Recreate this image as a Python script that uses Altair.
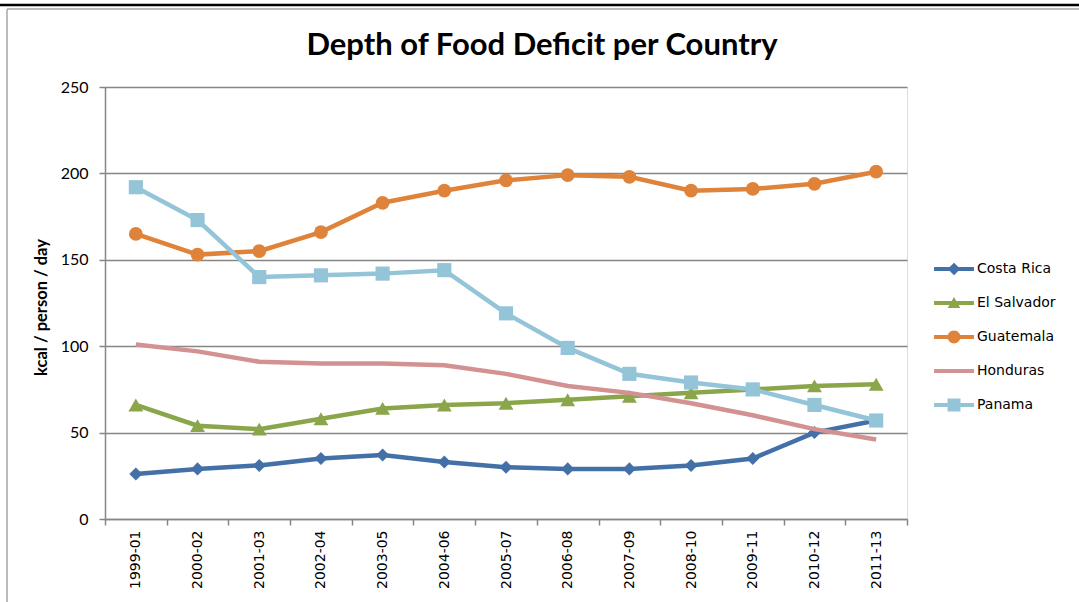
import altair as alt
import pandas as pd

periods = ["1999-01", "2000-02", "2001-03", "2002-04", "2003-05", "2004-06", "2005-07",
           "2006-08", "2007-09", "2008-10", "2009-11", "2010-12", "2011-13"]
countries = ["Costa Rica", "El Salvador", "Guatemala", "Honduras", "Panama"]
costa_rica = [26, 29, 31, 35, 37, 33, 30, 29, 29, 31, 35, 50, 57]
el_salvador = [66, 54, 52, 58, 64, 66, 67, 69, 71, 73, 75, 77, 78]
guatemala = [165, 153, 155, 166, 183, 190, 196, 199, 198, 190, 191, 194, 201]
honduras = [101, 97, 91, 90, 90, 89, 84, 77, 73, 67, 60, 52, 46]
panama = [192, 173, 140, 141, 142, 144, 119, 99, 84, 79, 75, 66, 57]
colors = ["#4470A8", "#8BA54B", "#DE8339", "#D49191", "#93C4D7"]
marker_shapes = ["diamond", "triangle-up", "circle", None, "square"]
marker_sizes = [170, 220, 190, 0, 200]

series = [costa_rica, el_salvador, guatemala, honduras, panama]
rows = []
for c, vals in zip(countries, series):
    for p, v in zip(periods, vals):
        rows.append({"Period": p, "Country": c, "Value": v})
df = pd.DataFrame(rows)

# legend symbols: a line with the marker in the middle (custom SVG paths)
line_p = "M-1.33,-0.13L1.33,-0.13L1.33,0.13L-1.33,0.13Z"
legend_paths = [
    line_p + "M0,-0.42L0.42,0L0,0.42L-0.42,0Z",
    line_p + "M0,-0.4L0.42,0.33L-0.42,0.33Z",
    line_p + "M-0.43,0A0.43,0.43 0 1,1 0.43,0A0.43,0.43 0 1,1 -0.43,0Z",
    line_p,
    line_p + "M-0.43,-0.43L0.43,-0.43L0.43,0.43L-0.43,0.43Z",
]

gray = "#868686"

x_enc = alt.X("Period:N", sort=periods, title=None,
              scale=alt.Scale(paddingInner=0, paddingOuter=0),
              axis=alt.Axis(labelAngle=-90, labelFont="DejaVu Sans", labelFontSize=14,
                            labelColor="black", labelPadding=5, tickBand="extent",
                            tickSize=6, tickColor=gray, domainColor=gray, domainWidth=1.5,
                            tickWidth=1.5, grid=False))
y_enc = alt.Y("Value:Q", title="kcal / person / day",
              scale=alt.Scale(domain=[0, 250], nice=False),
              axis=alt.Axis(values=[0, 50, 100, 150, 200, 250], labelFont="Lato",
                            labelFontSize=16, labelColor="black", labelPadding=11,
                            tickSize=6, tickColor=gray, domainColor=gray, domainWidth=1.5,
                            tickWidth=1.5, gridColor=gray, gridWidth=1.5,
                            titleFont="Lato", titleFontSize=16.5, titleFontWeight="bold",
                            titleColor="black", titleAngle=270, titleX=-56, titleY=220,
                            titleBaseline="bottom", titleAlign="center"))

base = alt.Chart(df)

series_layers = []
for c, col, shp, sz in zip(countries, colors, marker_shapes, marker_sizes):
    sub = base.transform_filter(alt.datum.Country == c)
    series_layers.append(
        sub.mark_line(strokeWidth=4.5, color=col).encode(x=x_enc, y=y_enc))
    if shp is not None:
        series_layers.append(
            sub.mark_point(filled=True, opacity=1, size=sz, shape=shp, color=col)
            .encode(x=x_enc, y=y_enc))

leg = dict(title=None, orient="none", legendX=834, legendY=167,
           labelFont="DejaVu Sans", labelFontSize=14, labelColor="black",
           symbolSize=900, symbolOpacity=1, symbolStrokeWidth=0,
           rowPadding=12, labelOffset=8, padding=0)
legend_layer = base.mark_point(filled=True, opacity=0).encode(
    x=x_enc, y=y_enc,
    color=alt.Color("Country:N", scale=alt.Scale(domain=countries, range=colors),
                    legend=alt.Legend(**leg)),
    shape=alt.Shape("Country:N", scale=alt.Scale(domain=countries, range=legend_paths),
                    legend=alt.Legend(**leg)),
)

frame_df = pd.DataFrame({"k": [0]})
top_black = alt.Chart(frame_df).mark_rule(color="black", strokeWidth=2.5).encode(
    x=alt.value(-105), x2=alt.value(974), y=alt.value(-82))
top_gray = alt.Chart(frame_df).mark_rule(color="#A6A6A6", strokeWidth=1.5).encode(
    x=alt.value(-98), x2=alt.value(974), y=alt.value(-78))
left_gray = alt.Chart(frame_df).mark_rule(color="#A6A6A6", strokeWidth=1.5).encode(
    x=alt.value(-98), y=alt.value(-78), y2=alt.value(515))

chart = alt.layer(top_black, top_gray, left_gray, legend_layer, *series_layers).properties(
    width=802, height=432,
    padding={"left": 105, "top": 87, "right": 172, "bottom": 83},
    autosize=alt.AutoSizeParams(type="none"),
    title=alt.TitleParams("Depth of Food Deficit per Country", font="Lato", fontSize=31,
                          fontWeight="bold", color="black", anchor="middle",
                          baseline="alphabetic", offset=-82, dx=36),
).configure_view(stroke=None).configure(background="white")

chart.save("out.html", embed_options={"renderer": "svg", "actions": False})
